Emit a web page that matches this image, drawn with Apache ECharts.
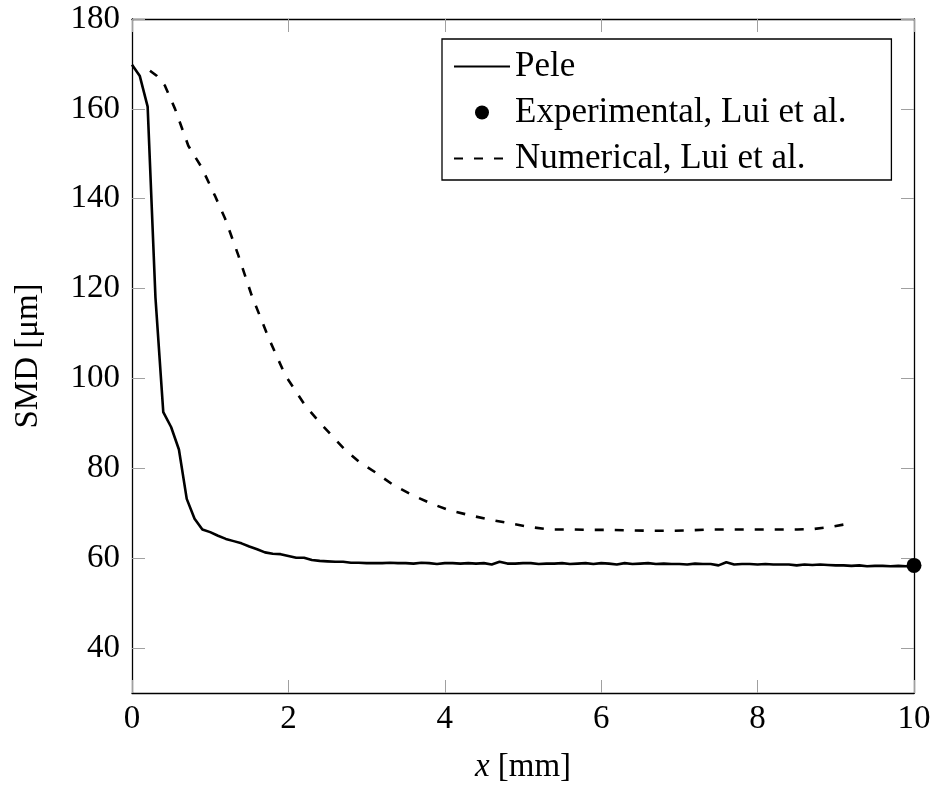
<!DOCTYPE html>
<html>
<head>
<meta charset="utf-8">
<title>SMD along x</title>
<script src="https://cdn.jsdelivr.net/npm/echarts@6/dist/echarts.min.js"></script>
<style>
  html, body { margin: 0; padding: 0; background: #ffffff; }
  #chart { width: 935px; height: 785px; }
</style>
</head>
<body>
<div id="chart"></div>
<script>
// Sauter mean diameter along the spray axis
const peleX = [
  0.0, 0.1, 0.2, 0.3, 0.4, 0.5, 0.6, 0.7, 0.8, 0.9,
  1.0, 1.1, 1.2, 1.3, 1.4, 1.5, 1.6, 1.7, 1.8, 1.9,
  2.0, 2.1, 2.2, 2.3, 2.4, 2.5, 2.6, 2.7, 2.8, 2.9,
  3.0, 3.1, 3.2, 3.3, 3.4, 3.5, 3.6, 3.7, 3.8, 3.9,
  4.0, 4.1, 4.2, 4.3, 4.4, 4.5, 4.6, 4.7, 4.8, 4.9,
  5.0, 5.1, 5.2, 5.3, 5.4, 5.5, 5.6, 5.7, 5.8, 5.9,
  6.0, 6.1, 6.2, 6.3, 6.4, 6.5, 6.6, 6.7, 6.8, 6.9,
  7.0, 7.1, 7.2, 7.3, 7.4, 7.5, 7.6, 7.7, 7.8, 7.9,
  8.0, 8.1, 8.2, 8.3, 8.4, 8.5, 8.6, 8.7, 8.8, 8.9,
  9.0, 9.1, 9.2, 9.3, 9.4, 9.5, 9.6, 9.7, 9.8, 9.9,
  10.0
];
const peleSMD = [
  169.8, 167.3, 160.5, 118.0, 92.5, 89.2, 84.2, 73.2, 68.8, 66.4,
  65.8, 65.0, 64.3, 63.8, 63.3, 62.6, 62.0, 61.3, 61.0, 60.9,
  60.5, 60.1, 60.1, 59.6, 59.4, 59.3, 59.2, 59.2, 59.0, 59.0,
  58.9, 58.9, 58.9, 59.0, 58.9, 58.9, 58.8, 59.0, 58.9, 58.7,
  58.9, 58.9, 58.8, 58.9, 58.8, 58.9, 58.6, 59.2, 58.8, 58.8,
  58.9, 58.9, 58.7, 58.8, 58.8, 58.9, 58.7, 58.8, 58.9, 58.7,
  58.9, 58.8, 58.6, 58.9, 58.7, 58.8, 58.9, 58.7, 58.8, 58.7,
  58.7, 58.6, 58.8, 58.7, 58.7, 58.4, 59.1, 58.6, 58.7, 58.7,
  58.6, 58.7, 58.6, 58.6, 58.6, 58.4, 58.6, 58.5, 58.6, 58.5,
  58.4, 58.4, 58.3, 58.4, 58.2, 58.3, 58.3, 58.2, 58.3, 58.2,
  58.3
];

const experimentalX = [10.0];
const experimentalSMD = [58.4];

const numericalX = [
  0.23, 0.32, 0.42, 0.55, 0.72, 0.89, 1.06, 1.19, 1.36, 1.53,
  1.75, 1.96, 2.21, 2.41, 2.71, 2.90, 3.13, 3.34, 3.58, 3.82,
  4.05, 4.31, 4.54, 4.82, 5.07, 5.33, 5.61, 5.86, 6.12, 6.38,
  6.63, 6.89, 7.14, 7.40, 7.66, 7.91, 8.21, 8.51, 8.72, 8.94,
  9.21
];
const numericalSMD = [
  168.5, 167.3, 165.2, 160.0, 151.8, 147.0, 140.7, 135.6, 127.4, 118.5,
  108.9, 100.7, 94.1, 90.0, 84.4, 81.5, 78.9, 76.3, 74.1, 72.2,
  70.7, 69.6, 68.7, 67.8, 67.0, 66.4, 66.4, 66.3, 66.3, 66.2,
  66.1, 66.1, 66.2, 66.4, 66.4, 66.4, 66.4, 66.4, 66.5, 67.0,
  67.8
];

const xTickStep = 2;
const yTicks = [40, 60, 80, 100, 120, 140, 160, 180];

const zip = (xs, ys) => xs.map((x, i) => [x, ys[i]]);

const FONT = '"Liberation Serif", "DejaVu Serif", serif';

function tick(values) {
  const t = { show: true, inside: true, length: 13, lineStyle: { color: '#a0a0a0', width: 1 } };
  if (values) t.customValues = values;
  return t;
}
function axisLine() {
  return { show: true, onZero: false, lineStyle: { color: '#000', width: 1.3 } };
}

const chart = echarts.init(document.getElementById('chart'), null, { renderer: 'canvas' });

chart.setOption({
  backgroundColor: '#ffffff',
  animation: false,
  grid: { left: 132, right: 21, top: 19, bottom: 92, containLabel: false, outerBoundsMode: 'none' },
  legend: {
    orient: 'vertical',
    left: 442,
    top: 39,
    padding: [10, 45, 4, 11],
    itemGap: 11,
    itemWidth: 56,
    itemHeight: 14,
    borderColor: '#000',
    borderWidth: 1.3,
    backgroundColor: '#fff',
    textStyle: { fontFamily: FONT, fontSize: 35, color: '#000' },
    data: [
      { name: 'Pele', itemStyle: { opacity: 0 } },
      { name: 'Experimental, Lui et al.', icon: 'circle', itemStyle: { color: '#000', opacity: 1 } },
      { name: 'Numerical, Lui et al.', itemStyle: { opacity: 0 } }
    ]
  },
  xAxis: [
    {
      type: 'value', min: 0, max: 10, interval: xTickStep,
      axisLine: axisLine(),
      axisTick: tick(),
      axisLabel: { fontFamily: FONT, fontSize: 33, color: '#000', margin: 10 },
      splitLine: { show: false },
      name: '{i|x} [mm]',
      nameLocation: 'middle',
      nameGap: 58,
      nameTextStyle: {
        fontFamily: FONT, fontSize: 33, color: '#000',
        rich: { i: { fontFamily: FONT, fontSize: 33, fontStyle: 'italic', color: '#000' } }
      }
    },
    {
      type: 'value', min: 0, max: 10, interval: xTickStep, position: 'top',
      axisLine: axisLine(),
      axisTick: tick(),
      axisLabel: { show: false },
      splitLine: { show: false }
    }
  ],
  yAxis: [
    {
      type: 'value', min: 30, max: 180,
      axisLine: axisLine(),
      axisTick: tick(yTicks),
      axisLabel: { customValues: yTicks, fontFamily: FONT, fontSize: 33, color: '#000', margin: 12 },
      splitLine: { show: false },
      name: 'SMD [μm]',
      nameLocation: 'middle',
      nameGap: 87,
      nameTextStyle: { fontFamily: FONT, fontSize: 33, color: '#000' }
    },
    {
      type: 'value', min: 30, max: 180, position: 'right',
      axisLine: axisLine(),
      axisTick: tick(yTicks),
      axisLabel: { show: false },
      splitLine: { show: false }
    }
  ],
  series: [
    {
      name: 'Pele',
      type: 'line',
      data: zip(peleX, peleSMD),
      showSymbol: false,
      symbol: 'none',
      lineStyle: { color: '#000', width: 2.6, type: 'solid' },
      itemStyle: { color: '#000' },
      z: 3
    },
    {
      name: 'Experimental, Lui et al.',
      type: 'scatter',
      data: zip(experimentalX, experimentalSMD),
      symbol: 'circle',
      symbolSize: 15,
      itemStyle: { color: '#000', opacity: 1 },
      z: 5
    },
    {
      name: 'Numerical, Lui et al.',
      type: 'line',
      data: zip(numericalX, numericalSMD),
      showSymbol: false,
      symbol: 'none',
      lineStyle: { color: '#000', width: 2.6, type: [9, 11] },
      itemStyle: { color: '#000' },
      z: 3
    }
  ]
});
</script>
</body>
</html>
